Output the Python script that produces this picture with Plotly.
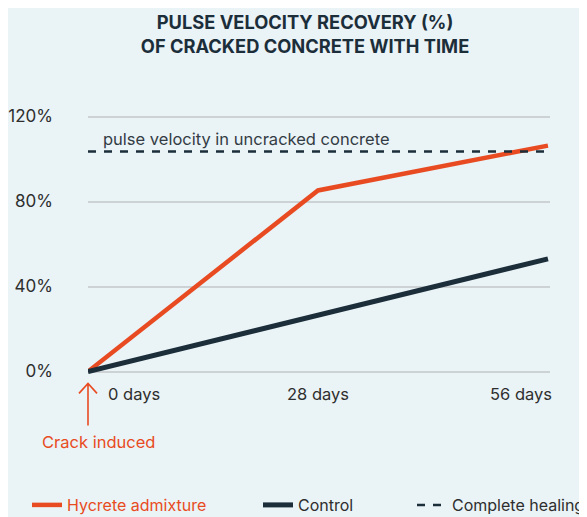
import plotly.graph_objects as go

# Data
days = [0, 28, 56]
hycrete = [0, 85.2, 106.3]
control = [0, 26.5, 53.0]
healing = [103.5, 103.5, 103.5]
y_ticks = [0, 40, 80, 120]
y_tick_labels = ["0%", "40%", "80%", "120%"]
x_labels = ["0 days", "28 days", "56 days"]

ORANGE = "#e84b22"
DARK = "#1b2e3a"
TEXT = "#2e2e2e"
BG = "#eaf3f6"
FONT = "Inter, Roboto, sans-serif"

# page has an 8px body margin, so the figure is a bit smaller than the window
W, H = 579, 509
Y0, Y1 = -4, 124


def py(v):
    # data value -> paper fraction (for annotations below the axis)
    return (v - Y0) / (Y1 - Y0)


fig = go.Figure()
fig.add_trace(go.Scatter(x=days, y=hycrete, mode="lines", legend="legend",
                         name=f"<span style='color:{ORANGE}'>Hycrete admixture</span>",
                         line=dict(color=ORANGE, width=4.5)))
fig.add_trace(go.Scatter(x=days, y=control, mode="lines", name="Control", legend="legend2",
                         line=dict(color=DARK, width=5)))
fig.add_trace(go.Scatter(x=days, y=healing, mode="lines", name="Complete healing",
                         legend="legend3",
                         line=dict(color=DARK, width=2.5, dash="8px,8px")))

# x labels as annotations (offset like the original)
anchors = ["left", "center", "right"]
shifts = [18, 0, 6]
for d, lab, a, s in zip(days, x_labels, anchors, shifts):
    fig.add_annotation(x=d, y=py(-10.8), yref="paper", text=lab, showarrow=False,
                       xanchor=a, xshift=s, yanchor="middle",
                       font=dict(size=16.5, color=TEXT, family=FONT))

fig.add_annotation(x=0, y=109.6, text="pulse velocity in uncracked concrete", showarrow=False,
                   xanchor="left", xshift=13, yanchor="middle",
                   font=dict(size=16.5, color="#333c44", family=FONT))

# crack induced arrow (thin open chevron) + label
fig.add_shape(type="path", xref="paper", yref="paper", xsizemode="pixel", ysizemode="pixel",
              xanchor=0, yanchor=py(-5.6),
              path="M0,0 L0,-42 M-9,-10 L0,0 L9,-10",
              line=dict(color=ORANGE, width=1.6))
fig.add_annotation(x=0, y=py(-33), yref="paper", text="Crack induced", showarrow=False,
                   xshift=10, yanchor="middle",
                   font=dict(size=16.5, color=ORANGE, family=FONT))


def leg(x_px):
    return dict(orientation="h", xref="container", x=x_px / W, xanchor="left",
                yref="container", y=1 - 497 / H, yanchor="middle",
                font=dict(size=16, color=TEXT, family=FONT), bgcolor="rgba(0,0,0,0)",
                itemwidth=30)


fig.update_layout(
    width=W, height=H,
    paper_bgcolor=BG, plot_bgcolor=BG,
    margin=dict(l=80, r=37, t=100, b=137, autoexpand=False),
    font=dict(family=FONT, color=TEXT),
    title=dict(text="<b>PULSE VELOCITY RECOVERY (%)<br>OF CRACKED CONCRETE WITH TIME</b>",
               x=0.513, xanchor="center", y=0.958, yanchor="middle",
               font=dict(size=18.3, color=DARK, family=FONT)),
    xaxis=dict(range=[0, 56.25], showgrid=False, zeroline=False, showticklabels=False,
               fixedrange=True),
    yaxis=dict(range=[Y0, Y1], tickvals=y_ticks, ticktext=y_tick_labels, automargin=False,
               showgrid=True, gridcolor="#cdd2d4", gridwidth=1.5, zeroline=False,
               ticklabelstandoff=34, tickfont=dict(size=17, color=TEXT, family=FONT)),
    legend=leg(19),
    legend2=leg(250),
    legend3=leg(404),
    showlegend=True,
)

fig.write_html("out.html")
